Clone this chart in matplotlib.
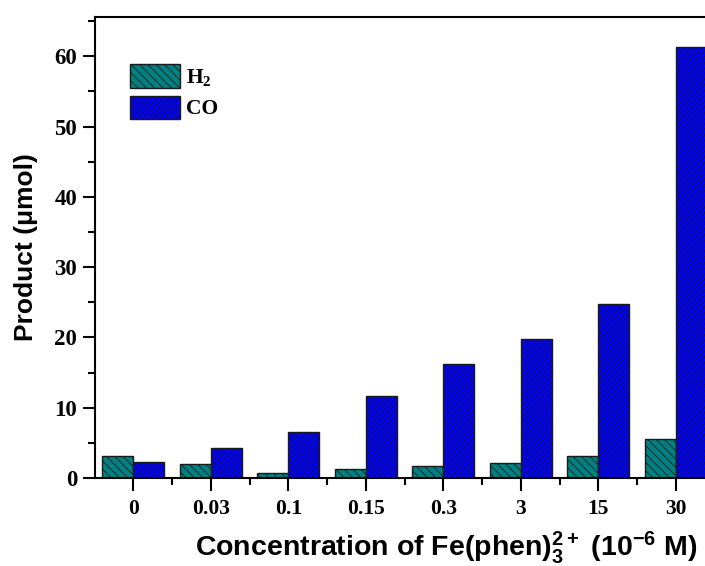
import numpy as np
import matplotlib
matplotlib.use('Agg')
import matplotlib.pyplot as plt
from matplotlib.ticker import MultipleLocator

# data
concentrations = ['0', '0.03', '0.1', '0.15', '0.3', '3', '15', '30']
h2_values = [3.1, 2.0, 0.75, 1.3, 1.75, 2.1, 3.1, 5.6]
co_values = [2.3, 4.3, 6.6, 11.7, 16.2, 19.8, 24.8, 61.3]

plt.rcParams['mathtext.fontset'] = 'custom'
plt.rcParams['mathtext.rm'] = 'Liberation Sans:bold'
plt.rcParams['mathtext.bf'] = 'Liberation Serif:bold'
plt.rcParams['mathtext.default'] = 'rm'
plt.rcParams['hatch.linewidth'] = 0.6

fig = plt.figure(figsize=(7.05, 5.66), dpi=100)
# the reference is cropped on the right, so the axes run past the figure edge
ax = fig.add_axes([94.5 / 705, 88 / 566, 620 / 705, 461 / 566])

x = np.arange(len(concentrations))
width = 0.4
ax.bar(x - width / 2, h2_values, width, color='#008080', edgecolor='#1a1a1a',
       linewidth=1.0, hatch='\\\\\\\\', label=r'$\mathbf{H_2}$')
ax.bar(x + width / 2, co_values, width, color='#0000ff', edgecolor='#1a1a1a',
       linewidth=1.0, hatch='//////', label='CO')

ax.set_xlim(-0.5, len(concentrations) - 0.5)
ax.set_ylim(0, 65.6)

ax.set_xticks(x)
ax.set_xticklabels(concentrations)
ax.set_xticks(x[:-1] + 0.5, minor=True)
ax.yaxis.set_major_locator(MultipleLocator(10))
ax.yaxis.set_minor_locator(MultipleLocator(5))

ax.tick_params(which='major', direction='out', length=9, width=1.5)
ax.tick_params(which='minor', direction='out', length=5, width=1.5)
ax.tick_params(axis='x', which='major', pad=6)
for lab in ax.get_xticklabels():
    lab.set_fontfamily('Liberation Serif')
    lab.set_fontweight('bold')
    lab.set_fontsize(15.5)
for lab in ax.get_yticklabels():
    lab.set_fontfamily('Liberation Serif')
    lab.set_fontweight('bold')
    lab.set_fontsize(16.5)

for side in ['left', 'bottom', 'top', 'right']:
    ax.spines[side].set_linewidth(1.5)

ax.set_ylabel('Product (\u03bcmol)', fontfamily='Liberation Sans',
              fontweight='bold', fontsize=19)
ax.yaxis.set_label_coords(-0.091, 0.5)
ax.set_xlabel(r'Concentration of Fe(phen)$_3^{2+}$ (10$^{-6}$ M)',
              fontfamily='Liberation Sans', fontweight='bold', fontsize=20.5)
# label in the reference sits right of the visible axes centre
ax.xaxis.set_label_coords(0.568, -0.112)

ax.legend(loc='upper left', bbox_to_anchor=(0.026, 0.94), frameon=False,
          prop={'family': 'Liberation Serif', 'weight': 'bold', 'size': 15.5},
          handlelength=2.3, handleheight=1.3, handletextpad=0.3,
          labelspacing=0.35, borderaxespad=0.5)

fig.savefig('out.png', dpi=100)
